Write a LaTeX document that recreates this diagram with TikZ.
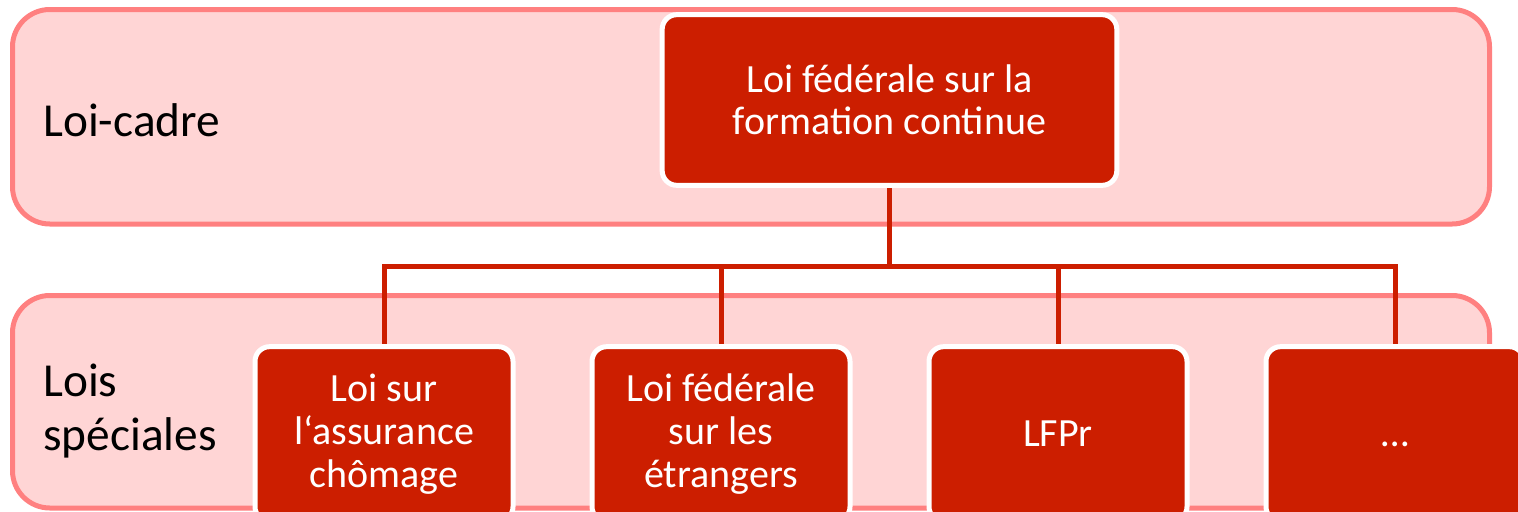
\documentclass[tikz,border=0pt]{standalone}
\usepackage{fontspec}
\setmainfont{Carlito}
\definecolor{boxred}{RGB}{204,30,0}
\definecolor{bandfill}{RGB}{255,213,213}
\definecolor{bandline}{RGB}{255,128,128}
\pgfdeclarelayer{bg}
\pgfsetlayers{bg,main}
\begin{document}
\begin{tikzpicture}[x=0.75pt,y=-0.75pt,
  band/.style={draw=bandline,fill=bandfill,line width=3.75pt,rounded corners=28pt},
  topbox/.style={draw=white,fill=boxred,line width=3.75pt,rounded corners=11pt,
    text=white,align=center,inner sep=0pt,minimum width=341pt,minimum height=128pt,
    font=\fontsize{30pt}{31.5pt}\selectfont},
  subbox/.style={draw=white,fill=boxred,line width=3.75pt,rounded corners=11pt,
    text=white,align=center,inner sep=0pt,minimum width=193.5pt,minimum height=131pt,
    font=\fontsize{30pt}{32.25pt}\selectfont},
  bandlabel/.style={inner sep=0pt,align=left,anchor=base west,
    font=\fontsize{35.5pt}{41pt}\selectfont},
  link/.style={draw=boxred,line width=3.75pt}]
\useasboundingbox (0,0) rectangle (1518,511);
% nodes
\node[topbox] (top) at (889.5,100) {Loi fédérale sur la\\formation continue};
\node[subbox] (c1) at (384,434) {Loi sur\\l‘assurance\\chômage};
\node[subbox] (c2) at (721,434) {Loi fédérale\\sur les\\étrangers};
\node[subbox] (c3) at (1058,434) {LFPr};
\node[subbox] (c4) at (1395,434) {\vphantom{LFPr}…};
\coordinate (bus) at (889.5,266);
\begin{pgfonlayer}{bg}
% bands
\draw[band] (12.5,9.5) rectangle (1489.5,224);
\draw[band] (12.5,295.5) rectangle (1489.5,508);
\node[bandlabel] (lc) at (43,136) {Loi-cadre};
\node[bandlabel,anchor=west] (ls) at (43,411) {Lois\\spéciales};
% connectors
\foreach \c in {c1,c2,c3,c4}{
  \draw[link] (top.south) -- (top.south |- bus) -| (\c.north);
}
\end{pgfonlayer}
\end{tikzpicture}
\end{document}
